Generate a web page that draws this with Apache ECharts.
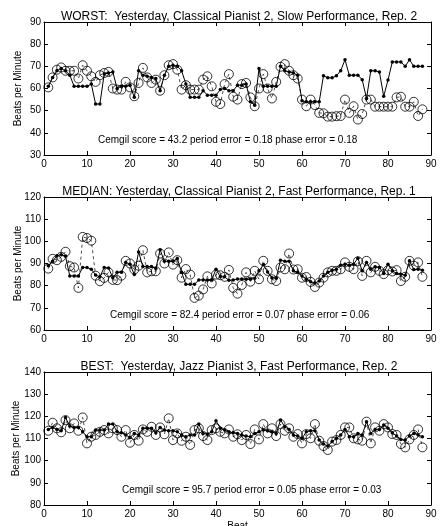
<!DOCTYPE html>
<html>
<head>
<meta charset="utf-8">
<script src="https://cdn.jsdelivr.net/npm/echarts@6/dist/echarts.min.js"></script>
<style>
  html, body { margin: 0; padding: 0; background: #fff; }
  #chart { width: 440px; height: 526px; }
</style>
</head>
<body>
<div id="chart"></div>
<script>
const beats = [1, 2, 3, 4, 5, 6, 7, 8, 9, 10, 11, 12, 13, 14, 15, 16, 17, 18, 19, 20, 21, 22,
  23, 24, 25, 26, 27, 28, 29, 30, 31, 32, 33, 34, 35, 36, 37, 38, 39, 40, 41, 42, 43, 44,
  45, 46, 47, 48, 49, 50, 51, 52, 53, 54, 55, 56, 57, 58, 59, 60, 61, 62, 63, 64, 65, 66,
  67, 68, 69, 70, 71, 72, 73, 74, 75, 76, 77, 78, 79, 80, 81, 82, 83, 84, 85, 86, 87, 88]

// WORST panel
const worstTrack = [61, 65, 68, 69, 68, 66, 61, 61, 61, 61, 62, 53, 53, 66.5, 67, 67.5, 60, 61, 61, 61.5,
  56, 68, 66, 65.5, 65, 64.5, 59, 66, 70, 70.5, 70, 68, 62, 56, 56, 56, 59, 57, 57, 57,
  59.5, 60, 59, 59, 61.5, 61.5, 62, 54, 52.5, 69, 61, 61, 61, 61, 70, 68, 67.5, 67, 66, 54.5,
  54, 54, 54, 54, 65.8, 64.8, 64.8, 65.7, 68, 73, 66, 66, 66, 64, 55.5, 68, 68, 67.5, 56.5, 63.8,
  72, 72, 72, 70, 73, 70, 70, 70]
const worstTruth = [60.5, 65, 68.5, 69.5, 68, 68, 68, 64.5, 70.5, 68, 65.5, 63, 66, 67, 67.5, 60, 59.5, 59.5, 63, 60.5,
  56.5, 62.5, 69.3, 65, 62.5, 64, 59, 66, 70.5, 71, 68.5, 59.5, 61.5, 59.5, 59.5, 59.5, 64, 65.5, 61, 54,
  53, 62, 66.5, 56.3, 55, 62, 62.5, 56, 52, 60, 66.5, 60, 55.5, 63, 69.8, 71, 68, 66, 64.5, 55,
  52, 55, 52.5, 49, 48.8, 47.3, 47.3, 47.5, 47.6, 55, 49, 52, 46, 48.5, 55, 55, 51.8, 51.8, 51.8, 51.8,
  51.8, 56, 56.3, 51.8, 51.8, 54, 47.6, 50.6]

// MEDIAN panel
const medianTrack = [89, 91, 93.5, 94, 93.3, 84.4, 84.4, 84.4, 88.2, 88.2, 87.4, 84.8, 84, 88.2, 88, 83.6, 86, 86, 90.5, 89.7,
  85, 95.2, 88.6, 88.6, 88.6, 87.7, 96.2, 91, 91, 91, 92.3, 86, 80.6, 80.6, 80.6, 82.6, 82.6, 82.6, 82.6, 87.4,
  84, 84, 82.4, 82.6, 83, 83, 82.9, 82.9, 83.3, 86.7, 89.4, 86.2, 83.6, 83.3, 91.5, 91, 91, 86.7, 86, 84.4,
  82.9, 81.8, 81.2, 82.1, 84.4, 86, 87, 87.4, 89.2, 89.7, 89.2, 89.7, 92.4, 86.7, 90.5, 87.4, 88.5, 88.2, 85.5, 89.7,
  86.7, 85.5, 85.2, 84.7, 91.2, 87.3, 87.4, 87]
const medianTruth = [87.7, 92.1, 91.5, 93, 95.3, 88.8, 88.2, 79, 102, 101.5, 100.3, 84.5, 82, 83.5, 86, 82.6, 82.5, 84.5, 91.2, 90,
  87.3, 89, 96, 86, 86.5, 86.5, 94.5, 90, 95, 89.5, 91.5, 83.6, 87.5, 85, 74.5, 75.5, 78.3, 84.2, 81, 85,
  84.7, 84, 87.1, 79, 76.4, 80.3, 86, 81.8, 86.7, 82.9, 91.2, 86.7, 82.9, 82.1, 88.2, 87.4, 94.5, 87.3, 87.4, 83.6,
  83.9, 81.7, 79.4, 81.4, 83.6, 86, 86.7, 86.7, 87.4, 90.5, 88.5, 87.4, 91, 84.4, 91.2, 86, 88.5, 86.7, 85.2, 87,
  86.4, 87, 82.1, 84, 91.2, 89, 90.5, 84]

// BEST panel
const bestTrack = [114.1, 115, 114.1, 113.5, 119.5, 115.6, 115, 115, 113, 110.8, 110.8, 113.8, 113.8, 113.8, 116.5, 116.5, 113, 112.6, 111.6, 110.5,
  112.3, 111.6, 114.6, 114.6, 114.6, 112.6, 115, 113.8, 113.5, 113.5, 113, 111.6, 110.8, 111.6, 111.6, 116.5, 112.3, 112, 113, 118,
  114.6, 113.8, 113, 112.6, 112.3, 111.6, 111.1, 110.8, 112.3, 113, 113.8, 113.5, 113, 112.3, 118.3, 115.3, 114.1, 111.6, 111.1, 110.1,
  113, 113.5, 113.5, 109.3, 107.5, 106.6, 108.6, 110.1, 111.6, 114.1, 110.8, 110.8, 112.3, 111.6, 117.6, 112.3, 114.1, 114.1, 116.1, 114.6,
  112.6, 111.1, 109.6, 109.3, 111.1, 112.3, 111.6, 110.8]
const bestTruth = [113.5, 117.1, 114.6, 112.8, 118.3, 114.6, 116.8, 113.5, 119.5, 107.8, 110.8, 111.6, 113, 113.8, 112.3, 114.6, 113.8, 110.8, 113.8, 108.1,
  111.6, 109, 114.1, 113, 115.3, 111.6, 115, 111.9, 119.1, 109.3, 112.3, 109, 110.8, 107.1, 113.8, 114.6, 111.1, 109.3, 113.8, 114.6,
  113, 112.3, 114.1, 110.8, 111.9, 109.3, 111.6, 107.5, 114.1, 109.6, 116.5, 112.3, 114.6, 111.1, 116.5, 113.5, 114.6, 110.8, 112, 107.8,
  112, 110.1, 116.5, 109, 106.6, 104.8, 108.6, 109.3, 111.6, 115, 115, 110.1, 109.6, 109, 117.6, 107.8, 115, 113.5, 116.5, 115,
  112, 111.6, 107.5, 106, 109.6, 111.6, 114.1, 106]

const panelTitles = [
  'WORST:  Yesterday, Classical Pianist 2, Slow Performance, Rep. 2',
  'MEDIAN: Yesterday, Classical Pianist 2, Fast Performance, Rep. 1',
  'BEST:  Yesterday, Jazz Pianist 3, Fast Performance, Rep. 2',
]
const scoreTexts = [
  'Cemgil score = 43.2 period error = 0.18 phase error = 0.18',
  'Cemgil score = 82.4 period error = 0.07 phase error = 0.06',
  'Cemgil score = 95.7 period error = 0.05 phase error = 0.03',
]
const yRanges = [[30, 90], [60, 120], [80, 140]]
const xTicks = [0, 90, 10]
const yLabel = 'Beats per Minute'
const xLabel = 'Beat'

const font = "'Liberation Sans', Arial, sans-serif"
const panelTop = [22, 197, 372]
const panelHeight = 133
const gridLeft = 44
const gridRight = 9
const yNameX = [18, 18, 16]

const chartDom = document.getElementById('chart')
const echart = echarts.init(chartDom)

const pairs = (vals) => beats.map((b, i) => [b, vals[i]])
const tracks = [worstTrack, medianTrack, bestTrack]
const truths = [worstTruth, medianTruth, bestTruth]

const grid = []
const xAxis = []
const yAxis = []
const series = []
const graphic = []

const axisLine = {show: true, onZero: false, lineStyle: {color: '#000', width: 1}}
const tickIn = {show: true, inside: true, length: 4, lineStyle: {color: '#000'}}

for (let i = 0; i < 3; i++) {
  grid.push({
    left: gridLeft, right: gridRight, top: panelTop[i], height: panelHeight,
    containLabel: false, outerBoundsMode: 'none',
  })

  // bottom + top x axes (box with inward ticks)
  xAxis.push({
    type: 'value', gridIndex: i, position: 'bottom',
    min: xTicks[0], max: xTicks[1], interval: xTicks[2],
    axisLine: axisLine, axisTick: tickIn, splitLine: {show: false},
    axisLabel: {color: '#000', fontSize: 10, fontFamily: font, margin: 4},
    name: i === 2 ? xLabel : '', nameLocation: 'middle', nameGap: 16,
    nameTextStyle: {color: '#000', fontSize: 10, fontFamily: font},
  })
  xAxis.push({
    type: 'value', gridIndex: i, position: 'top',
    min: xTicks[0], max: xTicks[1], interval: xTicks[2],
    axisLine: axisLine, axisTick: tickIn, splitLine: {show: false},
    axisLabel: {show: false},
  })

  yAxis.push({
    type: 'value', gridIndex: i, position: 'left',
    min: yRanges[i][0], max: yRanges[i][1], interval: 10,
    axisLine: axisLine, axisTick: tickIn, splitLine: {show: false},
    axisLabel: {color: '#000', fontSize: 10, fontFamily: font, margin: 3},
  })
  yAxis.push({
    type: 'value', gridIndex: i, position: 'right',
    min: yRanges[i][0], max: yRanges[i][1], interval: 10,
    axisLine: axisLine, axisTick: tickIn, splitLine: {show: false},
    axisLabel: {show: false},
  })

  // open circles, thin dashed connection
  series.push({
    type: 'line', xAxisIndex: 2 * i, yAxisIndex: 2 * i,
    data: pairs(truths[i]),
    symbol: 'circle', symbolSize: 9,
    itemStyle: {color: 'rgba(0,0,0,0)', borderColor: '#000', borderWidth: 0.8},
    lineStyle: {color: '#000', width: 0.7, type: [3, 3]},
    z: 2,
  })
  // tracker: solid line with small filled dots
  series.push({
    type: 'line', xAxisIndex: 2 * i, yAxisIndex: 2 * i,
    data: pairs(tracks[i]),
    symbol: 'circle', symbolSize: 3.5,
    itemStyle: {color: '#000'},
    lineStyle: {color: '#000', width: 1},
    z: 3,
  })

  graphic.push({
    type: 'text', x: 239, y: panelTop[i] + 1,
    style: {
      text: panelTitles[i], fill: '#000', fontSize: 12, fontFamily: font,
      align: 'center', verticalAlign: 'bottom',
      textAlign: 'center', textVerticalAlign: 'bottom',
    },
    z: 10,
  })
  graphic.push({
    type: 'text', x: yNameX[i], y: panelTop[i] + panelHeight / 2,
    rotation: Math.PI / 2,
    style: {
      text: yLabel, fill: '#000', fontSize: 10, fontFamily: font,
      align: 'center', verticalAlign: 'middle',
      textAlign: 'center', textVerticalAlign: 'middle',
    },
    z: 10,
  })
  graphic.push({
    type: 'text', left: 98 + i * 12, top: panelTop[i] + 113,
    style: {text: scoreTexts[i], fill: '#000', fontSize: 10, fontFamily: font},
    z: 10,
  })
}

const options = {
  animation: false,
  backgroundColor: '#fff',
  grid: grid,
  xAxis: xAxis,
  yAxis: yAxis,
  series: series,
  graphic: graphic,
}
options && echart.setOption(options)
</script>
</body>
</html>
